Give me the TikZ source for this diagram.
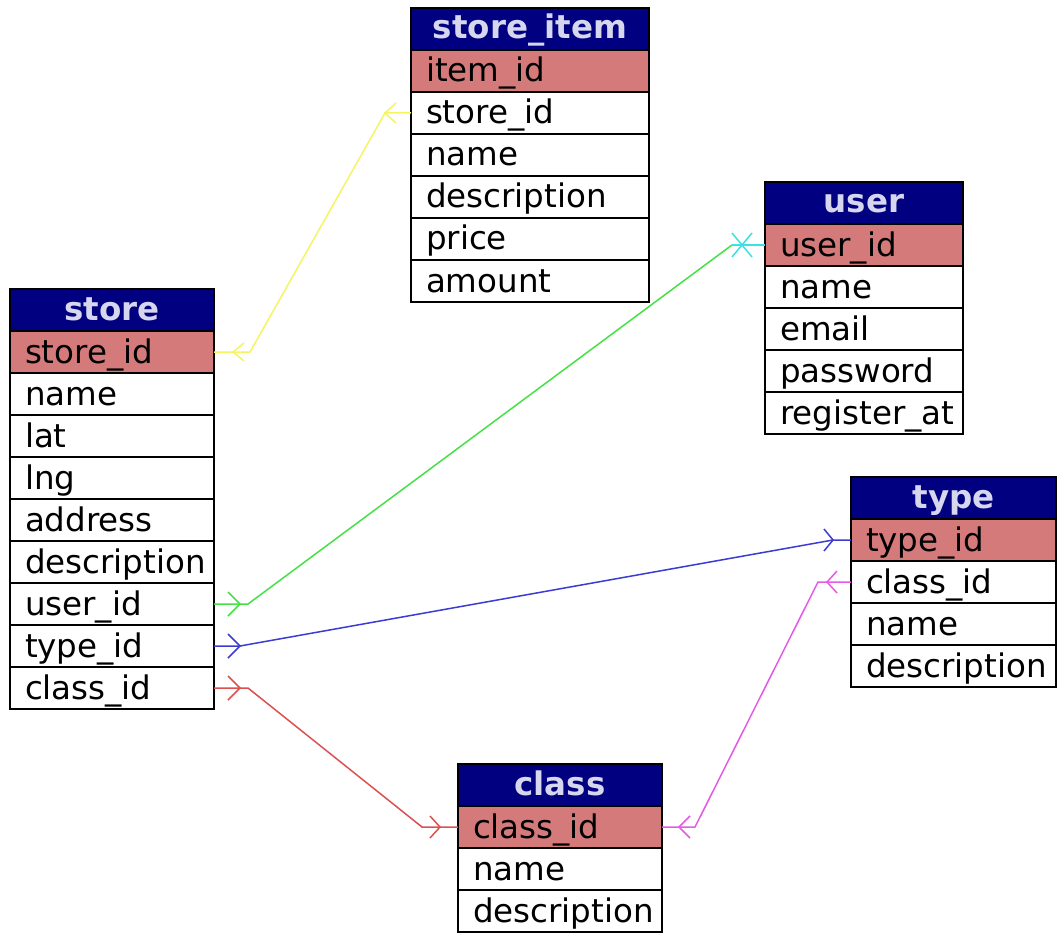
\documentclass[tikz,border=0pt]{standalone}
\usepackage{fontspec}
\setmainfont{DejaVu Sans}
\usetikzlibrary{calc}
\definecolor{hdrblue}{RGB}{0,0,128}
\definecolor{hdrtext}{RGB}{214,214,238}
\definecolor{pkfill}{RGB}{212,122,122}
\definecolor{cyel}{RGB}{245,245,100}
\definecolor{cgrn}{RGB}{70,225,70}
\definecolor{cblu}{RGB}{60,60,210}
\definecolor{cred}{RGB}{220,80,80}
\definecolor{cmag}{RGB}{230,90,230}
\definecolor{ccya}{RGB}{60,225,225}
\tikzset{
  tbl/.style={draw=black, line width=1.8pt, outer sep=0pt, inner xsep=15pt, inner ysep=0pt,
    minimum height=42pt, text height=27pt, text depth=5pt, anchor=north west,
    font=\fontsize{32.5}{39}\selectfont},
  hdr/.style={tbl, fill=hdrblue, text=hdrtext, text height=26pt, text depth=6pt,
    font=\fontsize{32.5}{39}\selectfont\bfseries, align=center},
  pk/.style={tbl, fill=pkfill, text=black, align=left},
  fld/.style={tbl, fill=white, text=black, align=left},
  conn/.style={line width=1.5pt},
}
\newcommand\erdtable[7]{%
  \pgfmathsetmacro\tw{#4-30}%
  \node[hdr, text width=\tw pt] (#1-0) at (#2,#3) {#5};
  \node[pk, text width=\tw pt] (#1-1) at (#1-0.south west) {#6};
  \foreach \f [count=\i from 2, remember=\i as \j (initially 1)] in {#7} {
    \node[fld, text width=\tw pt] (#1-\i) at (#1-\j.south west) {\f};
  }%
}
\newcommand\chev[4]{\draw[conn,#1] ($(#2)+(#3,-#4)$) -- (#2) -- ($(#2)+(#3,#4)$);}
\begin{document}
\begin{tikzpicture}[x=1pt,y=-1pt]
\useasboundingbox (0,0) rectangle (1059,933);
\fill[white] (0,0) rectangle (1059,933);
% tables
\erdtable{si}{411}{8}{238}{store\_item}{item\_id}{store\_id,name,description,price,amount}
\erdtable{user}{765}{182}{198}{user}{user\_id}{name,email,password,register\_at}
\erdtable{store}{10}{289}{204}{store}{store\_id}{name,lat,lng,address,description,user\_id,type\_id,class\_id}
\erdtable{type}{851}{477}{205}{type}{type\_id}{class\_id,name,description}
\erdtable{class}{458}{764}{204}{class}{class\_id}{name,description}
% yellow: store.store_id -- store_item.store_id
\coordinate (ya) at ($(si-2.west)+(-26,0)$);
\draw[conn,cyel] (store-1.east) -- ++(36,0) -- (ya) -- (si-2.west);
\coordinate (yb) at ($(store-1.east)+(19,0)$);
\chev{cyel}{yb}{11}{9}
\chev{cyel}{ya}{11}{10}
% green: store.user_id -- user.user_id
\coordinate (ga) at ($(user-1.west)+(-33,0)$);
\coordinate (gx) at ($(user-1.west)+(-23,0)$);
\draw[conn,cgrn] (store-7.east) -- ++(34,0) -- (ga);
\draw[conn,ccya] (ga) -- (user-1.west);
\draw[conn,ccya] ($(gx)+(-10,-12)$) -- ($(gx)+(10,12)$);
\draw[conn,ccya] ($(gx)+(-10,12)$) -- ($(gx)+(10,-12)$);
\coordinate (gb) at ($(store-7.east)+(26,0)$);
\chev{cgrn}{gb}{-12}{12}
% blue: store.type_id -- type.type_id
\coordinate (ba) at ($(store-8.east)+(26,0)$);
\coordinate (bb) at ($(type-1.west)+(-18,0)$);
\draw[conn,cblu] (store-8.east) -- (ba) -- (bb) -- (type-1.west);
\chev{cblu}{ba}{-12}{12}
\chev{cblu}{bb}{-9}{11}
% red: store.class_id -- class.class_id
\coordinate (ra) at ($(class-1.west)+(-36,0)$);
\coordinate (rb) at ($(class-1.west)+(-18,0)$);
\coordinate (rc) at ($(store-9.east)+(26,0)$);
\draw[conn,cred] (store-9.east) -- ++(34,0) -- (ra) -- (class-1.west);
\chev{cred}{rc}{-12}{12}
\chev{cred}{rb}{-10}{11}
% magenta: type.class_id -- class.class_id
\coordinate (ma) at ($(type-2.west)+(-33,0)$);
\coordinate (mb) at ($(class-1.east)+(33,0)$);
\draw[conn,cmag] (type-2.west) -- (ma) -- (mb) -- (class-1.east);
\coordinate (mc) at ($(type-2.west)+(-24,0)$);
\coordinate (md) at ($(class-1.east)+(17,0)$);
\chev{cmag}{mc}{10}{11}
\chev{cmag}{md}{11}{11}
\end{tikzpicture}
\end{document}
